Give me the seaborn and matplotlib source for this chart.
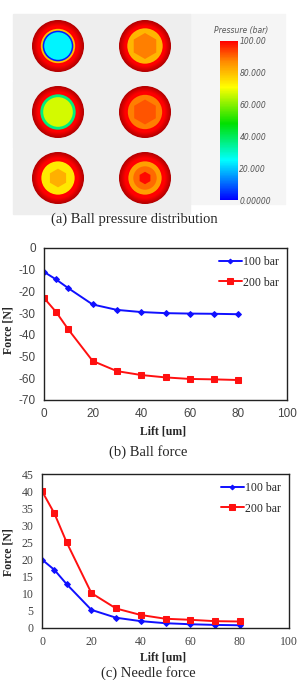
import numpy as np
import pandas as pd
import matplotlib
matplotlib.use("Agg")
import matplotlib.pyplot as plt
import seaborn as sns
from matplotlib.colors import LinearSegmentedColormap, Normalize, to_rgb
from matplotlib.patches import Circle, RegularPolygon, Rectangle
from matplotlib.cm import ScalarMappable

# ---- data ----
lift = [0, 5, 10, 20, 30, 40, 50, 60, 70, 80]
ball_100 = [-11, -14.5, -18.5, -26, -28.5, -29.5, -30, -30.2, -30.3, -30.5]
ball_200 = [-23, -29.5, -37.5, -52, -56.7, -58.5, -59.6, -60.3, -60.5, -60.8]
needle_100 = [20, 17, 12.8, 5.3, 3.0, 2.0, 1.4, 1.1, 0.9, 0.8]
needle_200 = [40, 33.5, 25, 10.2, 5.7, 3.8, 2.7, 2.4, 2.0, 1.9]
series = ["100 bar", "200 bar"]

# ball pressure maps: ring radii (fraction of ball radius) and pressure levels (bar)
ball_radii = [
    [1.0, 0.66, 0.59, 0.53],
    [1.0, 0.68, 0.50],
    [1.0, 0.68, 0.57],
    [1.0, 0.66, 0.48],
    [1.0, 0.64, 0.36],
    [1.0, 0.64, 0.45, 0.24],
]
ball_levels = [
    [100, 80, 3, 24],
    [100, 81, 88],
    [100, 37, 67],
    [100, 88, 92],
    [100, 74, 82],
    [100, 84, 90, 99],
]
hex_core = [False, True, False, True, True, True]
cbar_ticks = [0, 20, 40, 60, 80, 100]
cbar_labels = ["0.00000", "20.000", "40.000", "60.000", "80.000", "100.00"]

W, H = 299, 680
fig = plt.figure(figsize=(W / 100, H / 100), dpi=100)
sns.set_style("white")
plt.rcParams["font.family"] = ["Liberation Serif", "DejaVu Serif"]
plt.rcParams["axes.unicode_minus"] = False

def fx(px):
    return px / W

def fy(py):
    return 1 - py / H

cmap = LinearSegmentedColormap.from_list(
    "press",
    [(0.0, "#0000ff"), (0.25, "#00ffff"), (0.48, "#00e000"),
     (0.71, "#ffff00"), (0.87, "#ff8c00"), (1.0, "#ff0000")])
norm = Normalize(0, 100)

# ---- (a) ball pressure distribution ----
ax0 = fig.add_axes([0, 0, 1, 1])
ax0.set_xlim(0, W)
ax0.set_ylim(H, 0)
ax0.axis("off")
ax0.add_patch(Rectangle((190, 14), 95, 190, color="#f5f5f5", zorder=0))
for y0, y1 in [(14, 80), (81, 148), (149, 214)]:
    ax0.add_patch(Rectangle((13, y0), 177, y1 - y0, color="#eeeeee", zorder=0))

centers = [(58, 46), (145, 46), (58, 112), (145, 112), (58, 178), (145, 178)]
R = 26
for (cx, cy), radii, levels, hx in zip(centers, ball_radii, ball_levels, hex_core):
    base = np.array(to_rgb(cmap(norm(levels[0]))))
    # darker rim for a sphere-like look
    for k, rf in enumerate(np.linspace(1.0, 0.78, 10)):
        shade = 0.7 + 0.3 * k / 9
        ax0.add_patch(Circle((cx, cy), R * rf, color=base * shade, lw=0, zorder=1))
    n = len(radii)
    for i in range(1, n):
        col = cmap(norm(levels[i]))
        if i == n - 1 and hx:
            ax0.add_patch(RegularPolygon((cx, cy), 6, radius=R * radii[i],
                                         color=col, lw=0, zorder=2 + i))
        else:
            ax0.add_patch(Circle((cx, cy), R * radii[i], color=col, lw=0, zorder=2 + i))

cax = fig.add_axes([fx(220), fy(200), fx(18), 159 / H])
cb = fig.colorbar(ScalarMappable(norm=norm, cmap=cmap), cax=cax, ticks=cbar_ticks)
cb.ax.set_yticklabels(cbar_labels, fontsize=5.5, style="italic", color="#555555",
                      family="DejaVu Sans")
cb.ax.tick_params(length=0, pad=1)
cb.outline.set_visible(False)
fig.text(fx(241), fy(31), "Pressure (bar)", fontsize=5.5, style="italic",
         color="#555555", family="DejaVu Sans", ha="center", va="center")
fig.text(fx(134), fy(219), "(a) Ball pressure distribution", fontsize=10.5,
         ha="center", va="center")

# ---- line charts ----
palette = {"100 bar": "#1010ff", "200 bar": "#ff1010"}
markers = {"100 bar": "D", "200 bar": "s"}
sizes = {"100 bar": 3, "200 bar": 5}

def draw(ax, y100, y200, ylim, yticks, tickfont):
    df = pd.DataFrame({"Lift": lift * 2, "Force": y100 + y200,
                       "Series": [series[0]] * len(lift) + [series[1]] * len(lift)})
    for s in series:
        sns.lineplot(data=df[df["Series"] == s], x="Lift", y="Force", ax=ax,
                     color=palette[s], marker=markers[s], markersize=sizes[s],
                     markeredgecolor=palette[s], lw=1.4, label=s)
    ax.set_xlim(0, 100)
    ax.set_ylim(*ylim)
    ax.set_xticks([0, 20, 40, 60, 80, 100])
    ax.set_yticks(yticks)
    ax.set_xlabel("")
    ax.set_ylabel("")
    for sp in ax.spines.values():
        sp.set_visible(True)
        sp.set_color("#222222")
        sp.set_linewidth(1.0)
    ax.tick_params(direction="in", length=2.5, width=0.8, color="#222222",
                   labelsize=8.5, labelcolor="#444444", pad=6)
    for lab in ax.get_xticklabels() + ax.get_yticklabels():
        lab.set_family(tickfont)
    ax.legend(loc="upper right", frameon=False, fontsize=8.5, handlelength=1.9,
              handletextpad=0.1, labelspacing=0.7, borderaxespad=0.3,
              markerscale=0.8)

ax1 = fig.add_axes([fx(44), fy(400), fx(243), 152 / H])
draw(ax1, ball_100, ball_200, (-70, 0), list(range(-70, 1, 10)), "Liberation Sans")
fig.text(0.027, fy(330), "Force [N]", rotation=90, fontsize=8.5, fontweight="bold",
         ha="center", va="center")
fig.text(fx(163), fy(432), "Lift [um]", fontsize=8.5, fontweight="bold",
         ha="center", va="center")
fig.text(fx(148), fy(452), "(b) Ball force", fontsize=10.5, ha="center", va="center")

ax2 = fig.add_axes([fx(42), fy(628), fx(247), 154 / H])
draw(ax2, needle_100, needle_200, (0, 45), list(range(0, 46, 5)), "Liberation Serif")
fig.text(0.027, fy(552), "Force [N]", rotation=90, fontsize=8.5, fontweight="bold",
         ha="center", va="center")
fig.text(fx(163), fy(657), "Lift [um]", fontsize=8.5, fontweight="bold",
         ha="center", va="center")
fig.text(fx(148), fy(673), "(c) Needle force", fontsize=10.5, ha="center", va="center")

fig.savefig("out.png", dpi=100)
